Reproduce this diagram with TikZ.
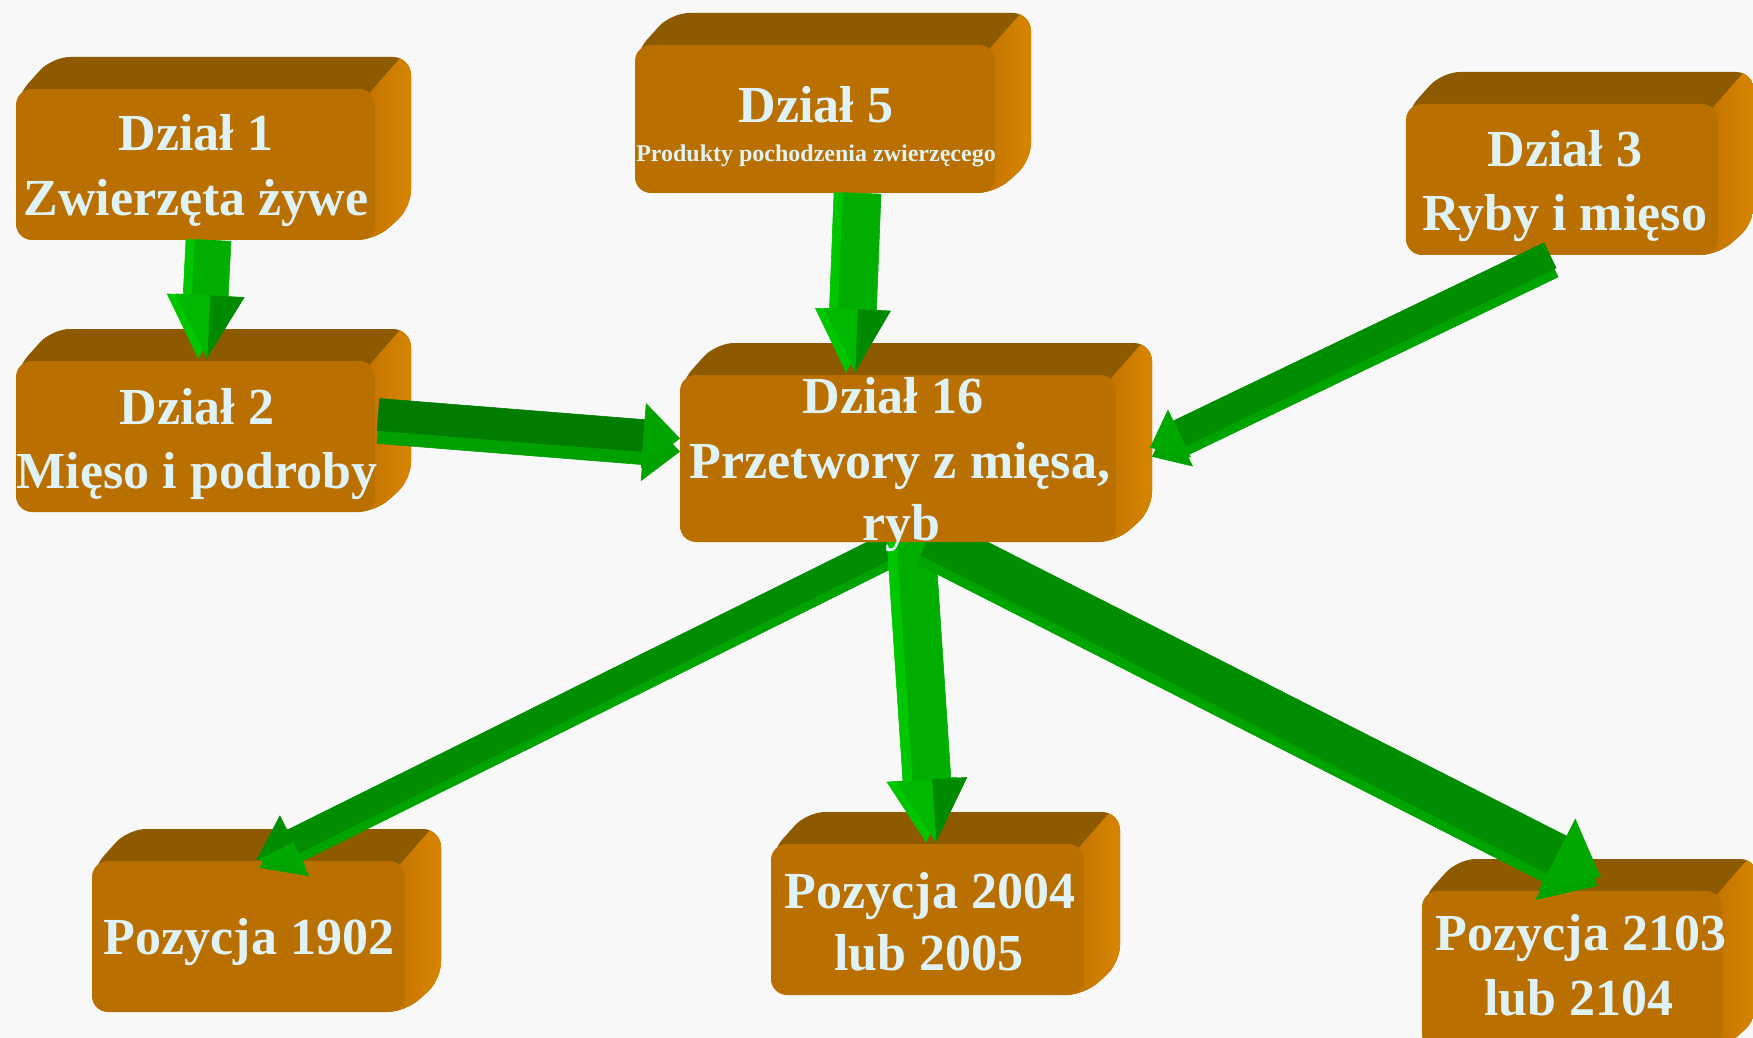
\documentclass[tikz,border=0pt]{standalone}
\usepackage{fontspec}
\setmainfont{Liberation Serif}
\usetikzlibrary{calc,fit}
\definecolor{bgc}{HTML}{F8F8F8}
\definecolor{cubefront}{HTML}{BA7000}
\definecolor{cubetop}{HTML}{8E5A00}
\definecolor{cubeside1}{HTML}{C27400}
\definecolor{cubeside2}{HTML}{DE8A00}
\definecolor{txt}{HTML}{DFF3F7}
\definecolor{gA}{HTML}{00AE00}
\definecolor{gAs}{HTML}{00C600}
\definecolor{gAd}{HTML}{008A00}
\definecolor{gAl}{HTML}{00B800}
\definecolor{gB}{HTML}{007D00}
\definecolor{gBs}{HTML}{00A000}
\definecolor{gBh}{HTML}{00A400}
\definecolor{gC}{HTML}{008E00}
\definecolor{gCs}{HTML}{00A400}
\definecolor{gCh}{HTML}{00A800}
\pgfdeclarelayer{low}
\pgfdeclarelayer{mid}
\pgfsetlayers{low,mid,main}
\tikzset{
 lbl/.style={text=txt, font=\bfseries\fontsize{26}{32}\selectfont, inner sep=0pt, anchor=base},
 sublbl/.style={text=txt, font=\bfseries\fontsize{12}{14}\selectfont, inner sep=0pt, anchor=base},
 frontface/.style={inner sep=0pt, fill=cubefront, rounded corners=8pt}
}
% 3D block: name, x0, y0, x1, y1 (pixels, y downward)
\newcommand\blockbox[5]{%
 \begin{scope}
  \clip[rounded corners=9pt] (#2,#3+8) -- (#2+36,#3-32) -- (#4+36,#3-32) -- (#4+36,#5-32) -- (#4,#5) -- (#2,#5) -- cycle;
  \fill[cubetop] (#2-10,#5) -- (#2-10,#3-40) -- (#4+50,#3-40) -- (#4+50,#5) -- cycle;
  \shade[left color=cubeside1, right color=cubeside2] (#4-10,#3+9) -- (#4+26,#3-32) -- (#4+50,#3-32) -- (#4+50,#5) -- (#4-10,#5) -- cycle;
 \end{scope}
 \node[frontface, fit={(#2,#3) (#4,#5)}] (#1) {};
}
% block arrow: start, end, half shaft, half head, head length, shaft col, head col (+90), head col (-90)
\newcommand\greenarrow[8]{%
 \coordinate (hb) at ($(#2)!#5!(#1)$);
 \filldraw[fill=#6, draw=#6, line width=0.3pt] ($(#1)!#3!90:(#2)$) -- ($(hb)!#3!90:(#2)$) -- ($(hb)!#3!-90:(#2)$) -- ($(#1)!#3!-90:(#2)$) -- cycle;
 \filldraw[fill=#7, draw=#7, line width=0.3pt] (hb) -- ($(hb)!#4!90:(#2)$) -- (#2) -- cycle;
 \filldraw[fill=#8, draw=#8, line width=0.3pt] (hb) -- ($(hb)!#4!-90:(#2)$) -- (#2) -- cycle;
}
\begin{document}
\begin{tikzpicture}[x=0.5pt,y=-0.5pt]
\useasboundingbox (0,0) rectangle (1753,1038);
\begin{pgfonlayer}{low}
 \fill[bgc] (0,0) rectangle (1753,1038);
 \blockbox{d1}{16}{89}{375}{240}
 \blockbox{d5}{635}{45}{995}{193}
 \blockbox{d3}{1406}{104}{1718}{255}
 \blockbox{d2}{16}{361}{375}{512}
 \blockbox{p1}{92}{861}{405}{1012}
 \blockbox{p2}{771}{844}{1084}{995}
 \blockbox{p3}{1422}{891}{1722}{1050}
\end{pgfonlayer}
\blockbox{d16}{680}{375}{1116}{542}

\coordinate (a1s) at ($(d1.south)+(17.5,0)$);
\coordinate (a1e) at ($(d2.north)+(11.5,-3)$);
\coordinate (a2s) at ($(d5.south)+(47,0)$);
\coordinate (a2e) at ($(d16.north)+(-43,-3)$);
\coordinate (a3s) at ($(d2.east)+(3,-22)$);
\coordinate (a3e) at ($(d16.west)+(0,-20)$);
\coordinate (a4s) at ($(d3.south)+(-12,0)$);
\coordinate (a4e) at ($(d16.east)+(34,-11)$);
\coordinate (a5s) at ($(d16.south)+(22,-12)$);
\coordinate (a5e) at ($(p1.north)+(8.5,-1)$);
\coordinate (a6s) at ($(d16.center)+(14,21.5)$);
\coordinate (a6e) at ($(p2.north)+(8.5,-2)$);
\coordinate (a7s) at ($(d16.south)+(32,-6)$);
\coordinate (a7e) at ($(p3.north)+(28,-14)$);

\begin{pgfonlayer}{mid}
 % Dzial 16 -> Pozycja 1902
 \begin{scope}[transform canvas={shift={(3,8)}}]\greenarrow{a5s}{a5e}{6.5pt}{14.5pt}{20pt}{gCs}{gCs}{gCs}\end{scope}
 \greenarrow{a5s}{a5e}{6.5pt}{14.5pt}{20pt}{gC}{gCh}{gC}
 % Dzial 16 -> Pozycja 2004
 \begin{scope}[transform canvas={shift={(-10,0)}}]\greenarrow{a6s}{a6e}{9.5pt}{17.5pt}{31pt}{gAs}{gAs}{gAs}\end{scope}
 \greenarrow{a6s}{a6e}{9.5pt}{17.5pt}{31pt}{gA}{gAd}{gAl}
 % Dzial 16 -> Pozycja 2103
 \begin{scope}[transform canvas={shift={(-3,9)}}]\greenarrow{a7s}{a7e}{10.5pt}{20pt}{24pt}{gCs}{gCs}{gCs}\end{scope}
 \greenarrow{a7s}{a7e}{10.5pt}{20pt}{24pt}{gC}{gCh}{gCh}
\end{pgfonlayer}

% Dzial 1 -> Dzial 2
\begin{scope}[transform canvas={shift={(-9,0)}}]\greenarrow{a1s}{a1e}{9pt}{17pt}{31pt}{gAs}{gAs}{gAs}\end{scope}
\greenarrow{a1s}{a1e}{9pt}{17pt}{31pt}{gA}{gAd}{gAl}
% Dzial 5 -> Dzial 16
\begin{scope}[transform canvas={shift={(-9,0)}}]\greenarrow{a2s}{a2e}{9.5pt}{16.5pt}{31pt}{gAs}{gAs}{gAs}\end{scope}
\greenarrow{a2s}{a2e}{9.5pt}{16.5pt}{31pt}{gA}{gAd}{gAl}
% Dzial 2 -> Dzial 16
\begin{scope}[transform canvas={shift={(0,13)}}]\greenarrow{a3s}{a3e}{8pt}{16pt}{18pt}{gBs}{gBs}{gBs}\end{scope}
\greenarrow{a3s}{a3e}{8pt}{16pt}{18pt}{gB}{gBh}{gBh}
% Dzial 3 -> Dzial 16
\begin{scope}[transform canvas={shift={(2,9)}}]\greenarrow{a4s}{a4e}{7pt}{13pt}{16pt}{gCs}{gCs}{gCs}\end{scope}
\greenarrow{a4s}{a4e}{7pt}{13pt}{16pt}{gC}{gCh}{gCh}

\node[lbl] (t1a) at (196,151) {Dział 1};
\node[lbl] (t1b) at (196,215) {Zwierzęta żywe};
\node[lbl] (t5a) at (816,123) {Dział 5};
\node[sublbl] (t5b) at (816,162) {Produkty pochodzenia zwierzęcego};
\node[lbl] (t3a) at (1565,167) {Dział 3};
\node[lbl] (t3b) at (1565,231) {Ryby i mięso};
\node[lbl] (t2a) at (197,424) {Dział 2};
\node[lbl] (t2b) at (197,488) {Mięso i podroby};
\node[lbl] (t16a) at (893,413) {Dział 16};
\node[lbl] (t16b) at (900,478) {Przetwory z mięsa,};
\node[lbl] (t16c) at (901,540) {ryb};
\node[lbl] (tp1) at (249,954) {Pozycja 1902};
\node[lbl] (tp2a) at (930,908) {Pozycja 2004};
\node[lbl] (tp2b) at (929,970) {lub 2005};
\node[lbl] (tp3a) at (1581,950) {Pozycja 2103};
\node[lbl] (tp3b) at (1579,1015) {lub 2104};
\end{tikzpicture}
\end{document}
